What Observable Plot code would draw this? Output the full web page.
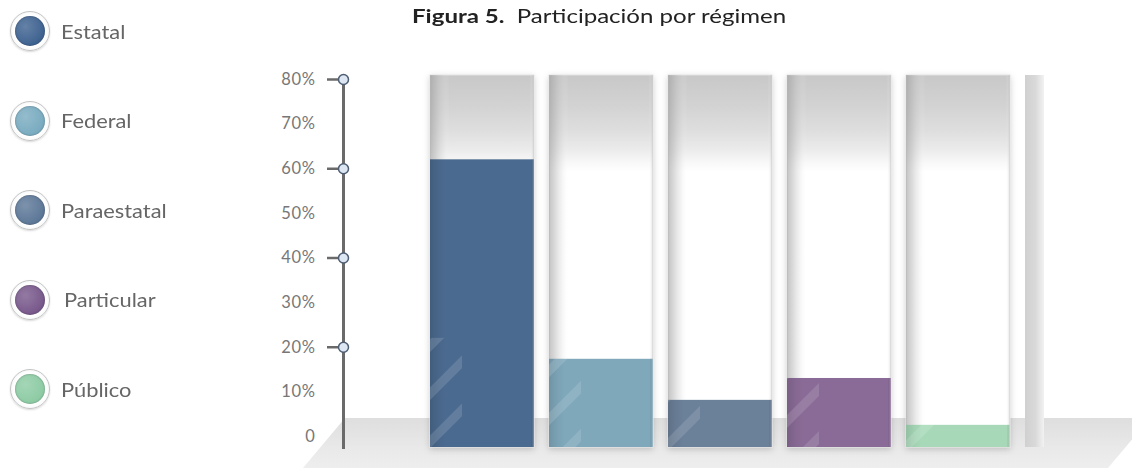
<!DOCTYPE html>
<html>
<head>
<meta charset="utf-8">
<script src="https://cdn.jsdelivr.net/npm/d3@7"></script>
<script src="https://cdn.jsdelivr.net/npm/@observablehq/plot@0.6"></script>
<style>
  html, body { margin: 0; padding: 0; background: #fff; }
  #wrap { position: relative; width: 1132px; height: 468px; overflow: hidden; font-family: Lato, "Open Sans", sans-serif; }
  #floor { position: absolute; left: 0; top: 418px; width: 1132px; height: 50px;
           background: linear-gradient(#dedede, #e9e9e9 60%, #eeeeee);
           clip-path: polygon(345px 0, 1150px 0, 1108px 50px, 303px 50px); }
  #chart { position: absolute; left: 0; top: 0; }
  #title { position: absolute; left: 412px; top: 5px; font-size: 18.5px; color: #222; white-space: pre;
           transform: scaleX(1.3); transform-origin: 0 50%; }
  #title b { font-weight: 700; }
  .leg { position: absolute; left: 10px; height: 40px; display: flex; align-items: center; }
  .ring { width: 40px; height: 40px; border-radius: 50%; box-sizing: border-box;
          border: 1px solid #c4c4c4; background: radial-gradient(circle, #ffffff 60%, #e4e8ec 100%);
          display: flex; align-items: center; justify-content: center; box-shadow: 0 1px 2px rgba(0,0,0,0.15); }
  .disk { width: 30px; height: 30px; border-radius: 50%; box-shadow: inset 0 0 2px rgba(0,0,0,0.35); }
  .lab { display: inline-block; font-size: 19px; color: #666; transform: scaleX(1.15); transform-origin: 0 50%; }
</style>
</head>
<body>
<div id="wrap">
  <div id="floor"></div>
  <div id="chart"></div>
  <div id="title"><b>Figura 5.</b>  Participación por régimen</div>
  <div id="legend"></div>
</div>
<script>
// ---- data ----
const categories = ["Estatal", "Federal", "Paraestatal", "Particular", "Público"];
const values = [62, 17.3, 8.1, 13, 2.5];
const barColors = ["#4b6a8f", "#7fa8bb", "#6b8099", "#8a6b97", "#a7d9b8"];
const legendColors = ["#3e6290", "#79abc0", "#5c7797", "#78588b", "#8dcba4"];
const tickValues = [0, 10, 20, 30, 40, 50, 60, 70, 80];
const tickLabels = ["0", "10%", "20%", "30%", "40%", "50%", "60%", "70%", "80%"];
const markerTicks = [20, 40, 60, 80];
const extraSlot = "extra";
const slots = [...categories, extraSlot];

const data = categories.map((c, i) => ({name: c, value: values[i]}));

// ---- legend ----
const legend = document.getElementById("legend");
categories.forEach((c, i) => {
  const item = document.createElement("div");
  item.className = "leg";
  item.style.top = (11 + i * 89.5) + "px";
  item.innerHTML = `<div class="ring"><div class="disk" style="background:radial-gradient(circle at 35% 35%, ${legendColors[i]}cc, ${legendColors[i]} 70%)"></div></div><span class="lab" style="margin-left:${c === "Particular" ? 14 : 11}px">${c}</span>`;
  legend.appendChild(item);
});

// ---- chart ----
const chart = Plot.plot({
  width: 1132,
  height: 468,
  marginTop: 79,
  marginBottom: 32,
  marginLeft: 343,
  marginRight: 1,
  style: {background: "transparent", overflow: "visible", fontFamily: "Lato, sans-serif"},
  x: {domain: slots, range: [430, 1131], paddingInner: 0.13, paddingOuter: 0, align: 0, axis: null},
  y: {domain: [0, 80], axis: null, label: null},
  color: {domain: categories, range: barColors},
  marks: [
    Plot.barY(categories, {x: d => d, y: 80, fill: "url(#colGrad)", stroke: "#e2e2e2", strokeWidth: 1, insetTop: -4, insetBottom: -11}),
    Plot.barY(categories, {x: d => d, y: 80, fill: "url(#colSide)", insetTop: -4, insetBottom: -11}),
    Plot.barY([extraSlot], {x: d => d, y: 80, fill: "url(#sliver)", insetTop: -4, insetBottom: -11, insetRight: 85}),
    Plot.barY(data, {x: "name", y: "value", fill: "name", insetBottom: -11}),
    Plot.barY(data, {x: "name", y: "value", fill: "url(#barSide)", insetBottom: -11}),
    Plot.barY(data, {x: "name", y1: 0, y2: d => Math.min(d.value, 22), fill: "url(#shine)", insetBottom: -11, insetRight: 72}),
    Plot.frame({anchor: "left", stroke: "#6a6a6a", strokeWidth: 3, insetBottom: -11}),
    Plot.axisY(markerTicks, {tickSize: 16, tickFormat: () => "", stroke: "#6a6a6a", strokeWidth: 2.5, label: null}),
    Plot.text(tickValues, {y: d => d, text: (d, i) => tickLabels[i], frameAnchor: "left", dx: -28, textAnchor: "end", fill: "#777", fontSize: 16.5}),
    Plot.dot(markerTicks, {y: d => d, frameAnchor: "left", r: 5, fill: "#dde7f4", stroke: "#4e5d72", strokeWidth: 1.5})
  ]
});

const svgNS = "http://www.w3.org/2000/svg";
const defs = document.createElementNS(svgNS, "defs");
defs.innerHTML = `
  <linearGradient id="colGrad" x1="0" y1="0" x2="0" y2="1">
    <stop offset="0" stop-color="#c8c8c8"/>
    <stop offset="0.08" stop-color="#d2d2d2"/>
    <stop offset="0.15" stop-color="#dedede"/>
    <stop offset="0.2" stop-color="#ebebeb"/>
    <stop offset="0.235" stop-color="#f8f8f8"/>
    <stop offset="0.26" stop-color="#ffffff"/>
    <stop offset="1" stop-color="#ffffff"/>
  </linearGradient>
  <linearGradient id="colSide" x1="0" y1="0" x2="1" y2="0">
    <stop offset="0" stop-color="#9a9a9a" stop-opacity="0.6"/>
    <stop offset="0.06" stop-color="#b0b0b0" stop-opacity="0.45"/>
    <stop offset="0.12" stop-color="#cccccc" stop-opacity="0.25"/>
    <stop offset="0.19" stop-color="#ffffff" stop-opacity="0"/>
    <stop offset="0.96" stop-color="#ffffff" stop-opacity="0"/>
    <stop offset="1" stop-color="#b4b4b4" stop-opacity="0.45"/>
  </linearGradient>
  <linearGradient id="sliver" x1="0" y1="0" x2="1" y2="0">
    <stop offset="0" stop-color="#d0d0d0"/>
    <stop offset="0.55" stop-color="#d9d9d9"/>
    <stop offset="1" stop-color="#f2f2f2"/>
  </linearGradient>
  <linearGradient id="barSide" x1="0" y1="0" x2="1" y2="0">
    <stop offset="0" stop-color="#000" stop-opacity="0.12"/>
    <stop offset="0.08" stop-color="#000" stop-opacity="0.04"/>
    <stop offset="0.15" stop-color="#000" stop-opacity="0"/>
    <stop offset="0.97" stop-color="#000" stop-opacity="0"/>
    <stop offset="1" stop-color="#fff" stop-opacity="0.35"/>
  </linearGradient>
  <pattern id="shine" patternUnits="userSpaceOnUse" width="34" height="34" patternTransform="rotate(-45)">
    <rect x="0" y="0" width="34" height="9" fill="#ffffff" fill-opacity="0.13"/>
  </pattern>
  <filter id="shadow" x="-20%" y="-5%" width="140%" height="115%">
    <feDropShadow dx="0" dy="2" stdDeviation="3" flood-color="#000" flood-opacity="0.18"/>
  </filter>`;
chart.insertBefore(defs, chart.firstChild);
const barGroups = chart.querySelectorAll("g[aria-label='bar']");
if (barGroups[0]) barGroups[0].setAttribute("filter", "url(#shadow)");
chart.querySelectorAll("g[aria-label='text'] text").forEach(t => t.style.letterSpacing = "0.6px");

document.getElementById("chart").appendChild(chart);
</script>
</body>
</html>
